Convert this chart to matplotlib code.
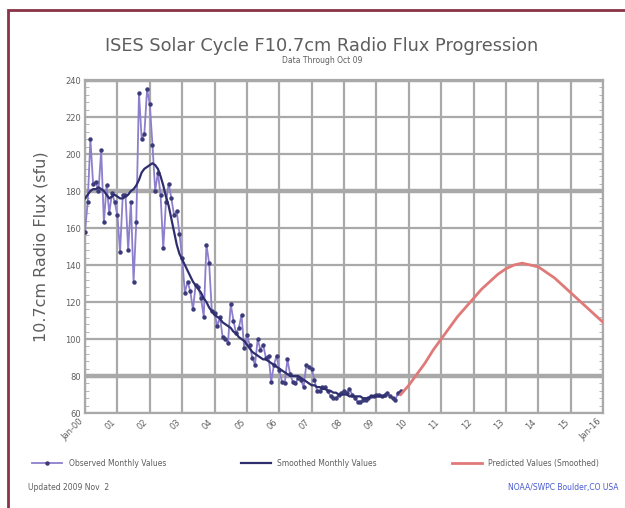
import numpy as np
import matplotlib
matplotlib.use("Agg")
import matplotlib.pyplot as plt
from matplotlib.patches import Rectangle

# Observed monthly F10.7 values, Jan 2000 .. Oct 2009
observed = [
    158, 174, 208, 184, 185, 180, 202, 163, 183, 168, 179, 174,   # 2000
    167, 147, 178, 178, 148, 174, 131, 163, 233, 208, 211, 235,   # 2001
    227, 205, 180, 190, 178, 149, 174, 184, 176, 167, 169, 157,   # 2002
    144, 125, 131, 126, 116, 129, 128, 122, 112, 151, 141, 115,   # 2003
    114, 107, 112, 101, 100, 98, 119, 110, 103, 106, 113, 95,     # 2004
    102, 97, 90, 86, 100, 94, 97, 90, 91, 77, 86, 91,             # 2005
    83, 77, 76, 89, 81, 77, 76, 79, 78, 74, 86, 85,               # 2006
    84, 78, 72, 72, 74, 74, 72, 69, 68, 68, 70, 71,               # 2007
    72, 71, 73, 70, 68, 66, 66, 67, 67, 68, 69, 69,               # 2008
    70, 70, 69, 70, 71, 69, 68, 67, 71, 72,                       # 2009
]

# Smoothed monthly values, Jan 2000 .. Apr 2009
smoothed = [
    176, 178, 180, 181, 181, 182, 181, 180, 178, 176, 177, 178,
    177, 176, 176, 177, 178, 180, 181, 183, 186, 190, 192, 193,
    194, 195, 194, 192, 188, 183, 177, 172, 165, 158, 151, 146,
    143, 140, 137, 134, 131, 129, 127, 125, 122, 120, 117, 115,
    113, 112, 111, 109, 108, 107, 106, 104, 103, 101, 100, 99,
    97, 95, 93, 92, 91, 90, 89, 89, 88, 87, 86, 85,
    84, 83, 82, 81, 80, 80, 80, 80, 79, 78, 77, 76,
    75, 75, 74, 74, 73, 73, 72, 72, 71, 71, 70, 70,
    70, 70, 69, 69, 69, 69, 69, 68, 68, 68, 69, 69,
    69, 69, 69, 69,
]

# Predicted (smoothed) values, quarterly from Oct 2009
pred_years = [2009.75, 2010.0, 2010.25, 2010.5, 2010.75, 2011.0, 2011.25,
              2011.5, 2011.75, 2012.0, 2012.25, 2012.5, 2012.75, 2013.0,
              2013.25, 2013.5, 2013.75, 2014.0, 2014.25, 2014.5, 2014.75,
              2015.0, 2015.25, 2015.5, 2015.75, 2016.0]
predicted = [70, 75, 81, 87, 94, 100, 106, 112, 117, 122, 127, 131, 135, 138,
             140, 141, 140, 139, 136, 133, 129, 125, 121, 117, 113, 109]

x_labels = ["Jan-00", "01", "02", "03", "04", "05", "06", "07", "08", "09",
            "10", "11", "12", "13", "14", "15", "Jan-16"]
y_ticks = [60, 80, 100, 120, 140, 160, 180, 200, 220, 240]

obs_years = 2000 + np.arange(len(observed)) / 12
sm_years = 2000 + np.arange(len(smoothed)) / 12

grid_c = "#a9a9a9"
text_c = "#5e5e5e"

fig = plt.figure(figsize=(6.25, 5.08), dpi=100)
ax = fig.add_axes([0.136, 0.187, 0.829, 0.6555])

# grid
for yr in range(2000, 2017):
    ax.axvline(yr, color=grid_c, lw=1.6, zorder=1)
for v in y_ticks:
    ax.axhline(v, color=grid_c, lw=3.2 if v in (80, 180, 240) else 1.6, zorder=1)

l1, = ax.plot(obs_years, observed, color="#8d7fcc", lw=1.3, marker="o",
              ms=2.2, mfc="#3b3b7a", mec="#3b3b7a", zorder=3)
l2, = ax.plot(sm_years, smoothed, color="#2e2e6e", lw=1.6, zorder=4)
l3, = ax.plot(pred_years, predicted, color="#e07a78", lw=2, zorder=3)

ax.set_xlim(2000, 2016)
ax.set_ylim(60, 240)
ax.set_xticks(range(2000, 2017))
ax.set_xticklabels(x_labels, rotation=45, ha="right", fontsize=6, color=text_c)
ax.set_yticks(y_ticks)
ax.set_yticklabels([str(v) for v in y_ticks], fontsize=6, color=text_c)
ax.set_yticks(np.arange(60, 241, 4), minor=True)
ax.tick_params(axis="both", which="major", length=0, pad=3)
ax.tick_params(axis="y", which="minor", direction="in", length=3,
               color=grid_c, left=True, right=True)
for s in ax.spines.values():
    s.set_color(grid_c)
    s.set_linewidth(1.6)

ax.set_ylabel("10.7cm Radio Flux (sfu)", fontsize=11.5, color=text_c, labelpad=12)

fig.text(0.515, 0.9, "ISES Solar Cycle F10.7cm Radio Flux Progression",
         ha="center", fontsize=12.8, color=text_c)
fig.text(0.515, 0.876, "Data Through Oct 09", ha="center", fontsize=5.5,
         color=text_c)

fig.legend([l1, l2, l3],
           ["Observed Monthly Values", "Smoothed Monthly Values",
            "Predicted Values (Smoothed)"],
           loc="lower left", bbox_to_anchor=(0.04, 0.065, 0.93, 0.05),
           mode="expand", ncol=3, frameon=False, fontsize=5.5,
           labelcolor=text_c, handlelength=4)

fig.text(0.045, 0.035, "Updated 2009 Nov  2", fontsize=5.5, color=text_c)
fig.text(0.99, 0.035, "NOAA/SWPC Boulder,CO USA", ha="right", fontsize=5.5,
         color="#4a5bd0")

# dark red frame
fig.add_artist(Rectangle((8 / 625, -0.1), 1.2, 0.98 + 0.1,
                         transform=fig.transFigure, fill=False,
                         ec="#8a3346", lw=2))

fig.savefig("out.png", dpi=100)
